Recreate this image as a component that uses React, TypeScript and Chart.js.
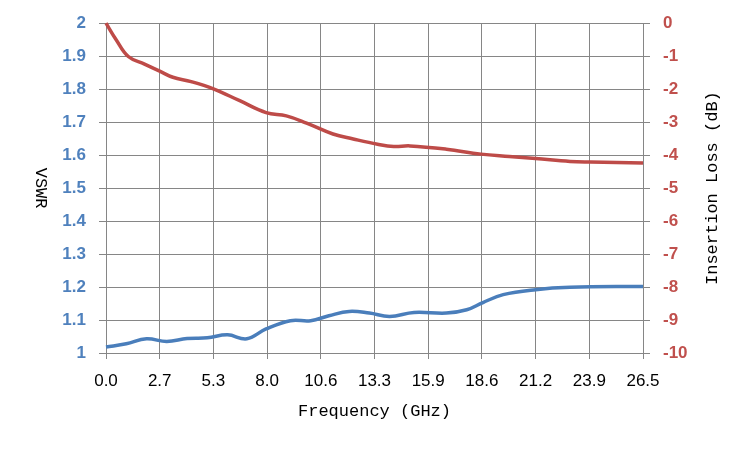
import React, { useEffect, useRef } from "react";
import { Chart, registerables } from "chart.js";

Chart.register(...registerables);

// x ticks (GHz)
const xTickValues = [0, 2.65, 5.3, 7.95, 10.6, 13.25, 15.9, 18.55, 21.2, 23.85, 26.5];
const xTickLabels = ["0.0", "2.7", "5.3", "8.0", "10.6", "13.3", "15.9", "18.6", "21.2", "23.9", "26.5"];

// insertion loss (dB), red curve
const lossFreq = [0, 0.5, 1.1, 1.9, 2.7, 3.3, 4.2, 5.3, 6.6, 7.9, 8.9, 9.9, 11.2, 12.2, 13.4, 14.2, 15.0, 16.8, 18.5, 19.9, 21.2, 22.9, 23.9, 26.5];
const lossDb = [0, -0.5, -1.01, -1.24, -1.47, -1.64, -1.77, -1.99, -2.35, -2.71, -2.81, -3.03, -3.36, -3.51, -3.67, -3.74, -3.72, -3.82, -3.97, -4.04, -4.1, -4.19, -4.21, -4.24];

// VSWR, blue curve
const vswrFreq = [0, 1.0, 2.0, 3.0, 4.0, 5.0, 6.0, 6.95, 7.9, 9.1, 10.1, 11.0, 12.0, 13.0, 14.0, 15.2, 16.8, 17.8, 18.6, 19.6, 21.2, 22.9, 26.5];
const vswr = [1.018, 1.028, 1.043, 1.035, 1.044, 1.046, 1.055, 1.043, 1.073, 1.098, 1.098, 1.113, 1.126, 1.121, 1.111, 1.123, 1.121, 1.131, 1.153, 1.177, 1.192, 1.199, 1.202];

const GRID = "#868686";
const BLUE = "#4a7ebb";
const RED = "#be4b48";
const TITLE_FONT = "17px 'Liberation Mono', monospace";

// side titles: both rotated the opposite way from Chart.js defaults
const axisTitles = {
  id: "axisTitles",
  afterDraw(chart: Chart) {
    const { ctx, chartArea } = chart;
    const midY = (chartArea.top + chartArea.bottom) / 2;
    ctx.save();
    ctx.font = TITLE_FONT;
    ctx.fillStyle = "#000";
    ctx.textAlign = "center";
    ctx.textBaseline = "middle";

    ctx.save();
    ctx.translate(40, midY);
    ctx.rotate(Math.PI / 2);
    ctx.fillText("VSWR", 0, 0);
    ctx.restore();

    ctx.save();
    ctx.translate(712, midY);
    ctx.rotate(-Math.PI / 2);
    ctx.fillText("Insertion Loss (dB)", 0, 0);
    ctx.restore();

    ctx.fillText("Frequency (GHz)", (chartArea.left + chartArea.right) / 2, 411);
    ctx.restore();
  },
};

export default function App() {
  const canvasRef = useRef<HTMLCanvasElement>(null);

  useEffect(() => {
    if (!canvasRef.current) return;

    const chart = new Chart(canvasRef.current, {
      type: "line",
      data: {
        datasets: [
          {
            label: "VSWR",
            data: vswrFreq.map((f, i) => ({ x: f, y: vswr[i] })),
            borderColor: BLUE,
            borderWidth: 3.5,
            pointRadius: 0,
            tension: 0.4,
            yAxisID: "y",
            clip: 6,
          },
          {
            label: "Insertion Loss",
            data: lossFreq.map((f, i) => ({ x: f, y: lossDb[i] })),
            borderColor: RED,
            borderWidth: 3.5,
            pointRadius: 0,
            tension: 0.4,
            yAxisID: "y1",
            clip: 6,
          },
        ],
      },
      options: {
        animation: false,
        responsive: true,
        maintainAspectRatio: false,
        layout: { padding: { top: 23, left: 0, right: 0, bottom: 0 } },
        plugins: {
          legend: { display: false },
          tooltip: { enabled: false },
        },
        scales: {
          x: {
            type: "linear",
            min: 0,
            max: 26.5,
            afterBuildTicks: (scale: any) => {
              scale.ticks = xTickValues.map((v) => ({ value: v }));
            },
            afterFit: (scale: any) => {
              scale.height = 97;
            },
            ticks: {
              autoSkip: false,
              maxRotation: 0,
              padding: 12,
              color: "#000",
              font: { size: 17, family: "'Liberation Sans', sans-serif" },
              callback: (_v: any, i: number) => xTickLabels[i],
            },
            grid: { color: GRID, lineWidth: 1, tickLength: 6 },
            border: { color: GRID },
          },
          y: {
            position: "left",
            min: 1,
            max: 2,
            afterFit: (scale: any) => {
              scale.width = 106;
            },
            ticks: {
              stepSize: 0.1,
              padding: 13,
              color: "#4f81bd",
              font: { size: 17, weight: "bold", family: "'Liberation Sans', sans-serif" },
              callback: (v: any) => String(Number(Number(v).toFixed(1))),
            },
            grid: { color: GRID, lineWidth: 1, tickLength: 7 },
            border: { color: GRID },
          },
          y1: {
            position: "right",
            min: -10,
            max: 0,
            afterFit: (scale: any) => {
              scale.width = 107;
            },
            ticks: {
              stepSize: 1,
              padding: 13,
              color: "#c0504d",
              font: { size: 17, weight: "bold", family: "'Liberation Sans', sans-serif" },
              callback: (v: any) => String(Math.round(Number(v))),
            },
            grid: { color: GRID, lineWidth: 1, tickLength: 7, drawOnChartArea: false },
            border: { color: GRID },
          },
        },
      },
      plugins: [axisTitles],
    });

    return () => {
      chart.destroy();
    };
  }, []);

  return (
    <div style={{ position: "fixed", left: 0, top: 0, width: 750, height: 450, background: "#fff" }}>
      <canvas ref={canvasRef} />
    </div>
  );
}
